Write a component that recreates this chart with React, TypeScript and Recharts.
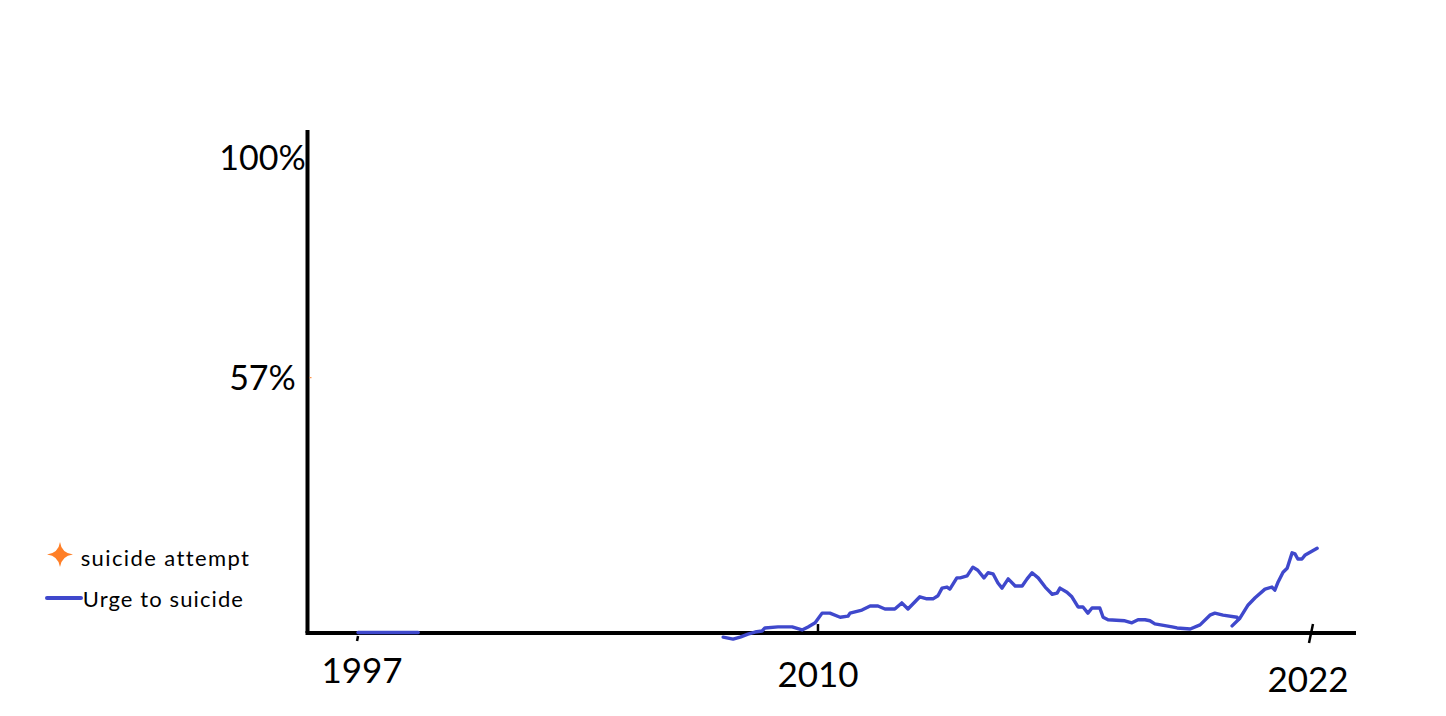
import React from "react";
import { LineChart, Line, XAxis, YAxis, ReferenceLine } from "recharts";

const yearTicks = [1997, 2010, 2022];
const percentTicks = [57, 100];

// urge to suicide, in % in three separate strokes
const earlyYears = [1997.0, 1997.9, 1998.7];
const earlyUrge = [7.1, 7.1, 7.1];

const midYears = [
  2007.32, 2007.6, 2007.8, 2008.02, 2008.22, 2008.42, 2008.5, 2008.87, 2009.27, 2009.55,
  2009.72, 2009.92, 2010.1, 2010.29, 2010.54, 2010.73, 2010.78, 2011.07, 2011.27, 2011.46,
  2011.63, 2011.87, 2012.04, 2012.19, 2012.48, 2012.65, 2012.8, 2012.92, 2013.02, 2013.14,
  2013.21, 2013.38, 2013.46, 2013.63, 2013.77, 2013.89, 2014.04, 2014.14, 2014.26, 2014.38,
  2014.48, 2014.63, 2014.8, 2014.97, 2015.09, 2015.21, 2015.36, 2015.53, 2015.7, 2015.82,
  2015.89, 2016.06, 2016.18, 2016.33, 2016.45, 2016.57, 2016.67, 2016.86, 2016.94, 2017.06,
  2017.47, 2017.64, 2017.79, 2017.96, 2018.08, 2018.2, 2018.62, 2018.74, 2019.06, 2019.3,
  2019.54, 2019.66, 2019.86, 2020.2, 2020.23,
];
const midUrge = [
  6.2, 5.8, 6.2, 6.8, 7.2, 7.4, 8.0, 8.2, 8.2, 7.6,
  8.2, 9.0, 10.9, 10.9, 10.1, 10.3, 10.9, 11.5, 12.3, 12.3,
  11.7, 11.7, 12.9, 11.7, 14.1, 13.7, 13.7, 14.3, 15.8, 16.0,
  15.6, 17.8, 17.8, 18.2, 19.9, 19.3, 17.8, 18.8, 18.6, 16.8,
  15.8, 17.6, 16.2, 16.2, 17.6, 18.8, 17.8, 16.0, 14.6, 14.8,
  15.8, 15.0, 14.1, 12.1, 12.1, 10.9, 11.9, 11.9, 10.1, 9.6,
  9.4, 9.0, 9.6, 9.6, 9.4, 8.8, 8.2, 8.0, 7.8, 8.6,
  10.5, 10.9, 10.5, 10.1, 9.7,
];

const lateYears = [
  2020.08, 2020.27, 2020.47, 2020.64, 2020.88, 2021.05, 2021.12, 2021.2, 2021.32, 2021.42,
  2021.54, 2021.61, 2021.68, 2021.78, 2021.86, 2022.15,
];
const lateUrge = [
  8.4, 9.9, 12.5, 13.9, 15.6, 16.0, 15.4, 17.0, 18.9, 19.7,
  22.7, 22.5, 21.5, 21.5, 22.3, 23.6,
];

const legendItems = ["suicide attempt", "Urge to suicide"];

const BLUE = "#3F48CC";
const ORANGE = "#FF7F27";
const FONT = "Lato, 'Open Sans', sans-serif";

// the drawn baseline sits at 7 %, the dip in 2007 goes a little under it
const Y_MIN = 5.5;
const Y_BASE = 7;
const Y_MAX = 105.5;

const toPoints = (years: number[], values: number[]) =>
  years.map((year, i) => ({ year, urge: values[i] }));

// the drawn time axis is not even: 1997-2010 is squeezed, 2010-2022 stretched
const yearKnots = [1995.57, 1997, 2010, 2022, 2023.05];
const knotStops = [0, 0.0483, 0.4878, 0.9589, 1];

function makeYearScale() {
  let dom: number[] = [yearKnots[0], yearKnots[yearKnots.length - 1]];
  let rng: number[] = [0, 1];
  const scale: any = (v: number) => {
    let i = 0;
    while (i < yearKnots.length - 2 && v > yearKnots[i + 1]) i++;
    const t =
      knotStops[i] +
      ((v - yearKnots[i]) / (yearKnots[i + 1] - yearKnots[i])) * (knotStops[i + 1] - knotStops[i]);
    return rng[0] + t * (rng[1] - rng[0]);
  };
  scale.domain = (d?: number[]) => {
    if (!d) return dom;
    dom = d;
    return scale;
  };
  scale.range = (r?: number[]) => {
    if (!r) return rng;
    rng = r;
    return scale;
  };
  scale.ticks = () => yearTicks;
  scale.copy = () => makeYearScale().domain(dom).range(rng);
  return scale;
}

const yearScale = makeYearScale();

// hand drawn tick marks and label offsets for each year, relative to the baseline
const yearTickLook: Record<number, { dx: number; dy: number; mark: number[] }> = {
  1997: { dx: 4, dy: 50, mark: [0, 3, -1, 8] },
  2010: { dx: 0, dy: 54, mark: [0, -9, 0, 0] },
  2022: { dx: -3, dy: 59, mark: [2, -9, -2, 10] },
};

function YearTick(props: any) {
  const { x, payload, lift } = props;
  const y = props.y - lift;
  const look = yearTickLook[payload.value] || { dx: 0, dy: 50, mark: [0, 0, 0, 0] };
  const [x1, y1, x2, y2] = look.mark;
  return (
    <g>
      <line x1={x + x1} y1={y + y1} x2={x + x2} y2={y + y2} stroke="#000" strokeWidth={2.5} />
      <text x={x + look.dx} y={y + look.dy} textAnchor="middle" fontFamily={FONT} fontSize={35} fill="#000">
        {payload.value}
      </text>
    </g>
  );
}

function PercentTick(props: any) {
  const { x, y, payload } = props;
  return (
    <g>
      {payload.value === 57 && <line x1={x + 2} y1={y} x2={x + 4} y2={y} stroke={ORANGE} strokeWidth={1} />}
      <text x={x - 45} y={y + 12} textAnchor="middle" fontFamily={FONT} fontSize={34} fill="#000">
        {payload.value}%
      </text>
    </g>
  );
}

function LegendBox() {
  return (
    <svg width={300} height={700} style={{ position: "absolute", left: 0, top: 0, pointerEvents: "none" }}>
      <path
        d="M52 534 Q53.5 545 65 546.5 Q53.5 548 52 559 Q50.5 548 39 546.5 Q50.5 545 52 534 Z"
        fill={ORANGE}
      />
      <text x={72.7} y={557.7} fontFamily={FONT} fontSize={22} letterSpacing={1.4} fill="#000">
        {legendItems[0]}
      </text>
      <line x1={39} y1={590} x2={73} y2={590} stroke={BLUE} strokeWidth={4} strokeLinecap="round" />
      <text x={74.7} y={598.7} fontFamily={FONT} fontSize={22} letterSpacing={1.1} fill="#000">
        {legendItems[1]}
      </text>
    </svg>
  );
}

export default function App() {
  const segments = [
    toPoints(earlyYears, earlyUrge),
    toPoints(midYears, midUrge),
    toPoints(lateYears, lateUrge),
  ];
  const plotHeight = 510.7;
  const lift = ((Y_BASE - Y_MIN) / (Y_MAX - Y_MIN)) * plotHeight;
  return (
    <div style={{ position: "relative", width: 1430, height: 700 }}>
      <LineChart width={1430} height={700} margin={{ top: 122, right: 84, bottom: 700 - 122 - plotHeight - 60, left: 209.5 }}>
        <XAxis
          dataKey="year"
          type="number"
          scale={yearScale}
          domain={[yearKnots[0], yearKnots[yearKnots.length - 1]]}
          ticks={yearTicks}
          height={60}
          tickLine={false}
          tickSize={0}
          tickMargin={0}
          tick={<YearTick lift={lift} />}
          axisLine={false}
        />
        <YAxis
          type="number"
          domain={[Y_MIN, Y_MAX]}
          ticks={percentTicks}
          width={90}
          tickLine={false}
          tickSize={0}
          tickMargin={0}
          tick={<PercentTick />}
          axisLine={false}
        />
        <ReferenceLine
          segment={[
            { x: yearKnots[0], y: Y_BASE },
            { x: yearKnots[0], y: Y_MAX },
          ]}
          stroke="#000"
          strokeWidth={4}
          ifOverflow="visible"
        />
        <ReferenceLine y={Y_BASE} stroke="#000" strokeWidth={4} strokeLinecap="square" ifOverflow="visible" />
        {segments.map((points, i) => (
          <Line
            key={i}
            data={points}
            dataKey="urge"
            name={legendItems[1]}
            type="linear"
            stroke={BLUE}
            strokeWidth={3.4}
            strokeLinejoin="round"
            strokeLinecap="round"
            dot={false}
            activeDot={false}
            isAnimationActive={false}
            zIndex={1000}
          />
        ))}
      </LineChart>
      <LegendBox />
    </div>
  );
}
